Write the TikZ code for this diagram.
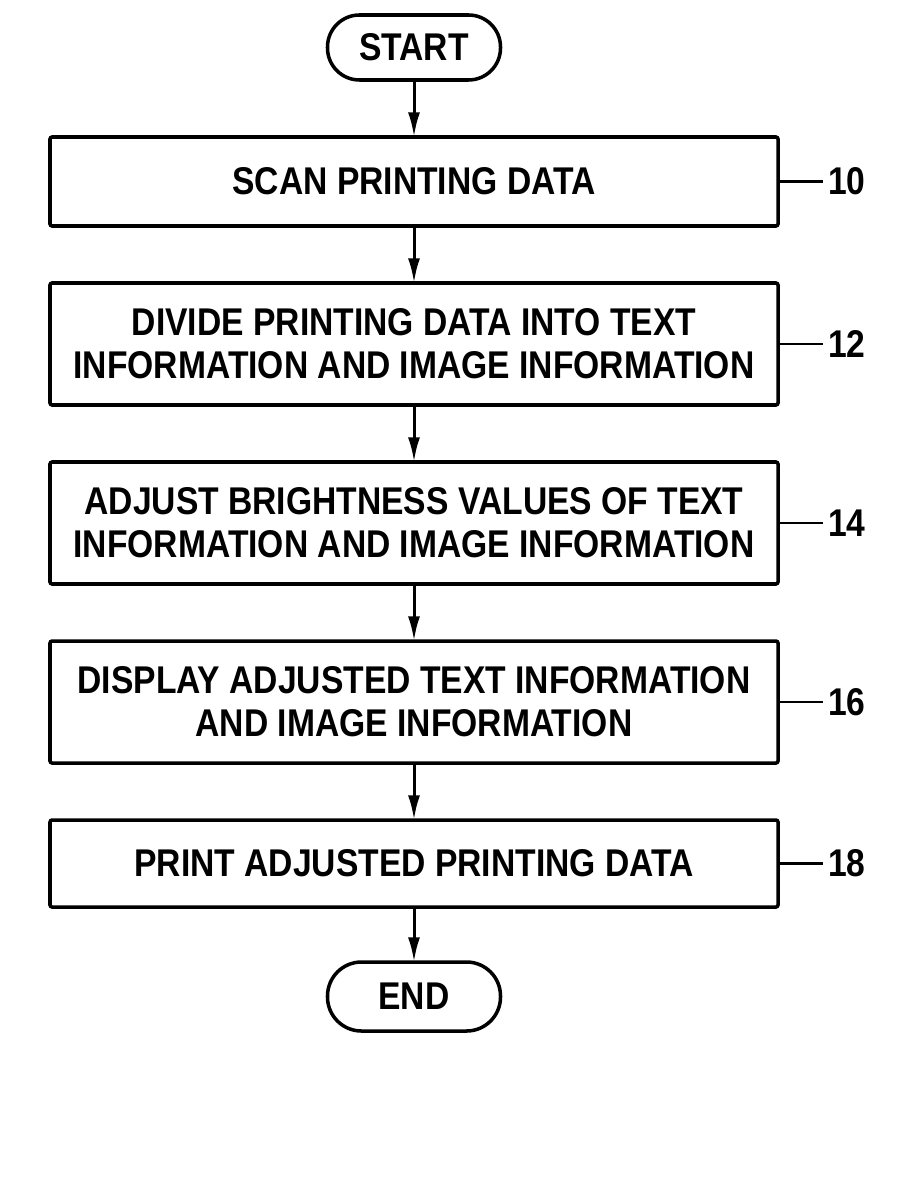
\documentclass[tikz,border=0pt]{standalone}
\usepackage{fontspec}
\setmainfont{Liberation Sans}[FakeStretch=0.87]
\usetikzlibrary{positioning,arrows.meta}

\begin{document}
\begin{tikzpicture}[node distance=0.57cm,
  every node/.style={font=\fontsize{11}{12.2}\selectfont\bfseries,outer sep=0pt},
  stepbox/.style={draw,line width=1pt,rounded corners=0.6pt,minimum width=7.28cm,align=center,inner sep=0pt},
  term/.style={draw,line width=1pt,rounded corners=3.2mm,minimum width=1.73cm,minimum height=0.65cm,inner sep=0pt},
  flow/.style={line width=0.85pt,-{Latex[length=7pt,width=3.4pt]}},
  num/.style={inner sep=1.5pt}]
  \useasboundingbox (0,0) rectangle (9.06,-11.87);
  \node[term] (start) at (4.14,-0.475) {START};
  \node[stepbox,minimum height=0.89cm] (scan) [below=of start] {SCAN PRINTING DATA};
  \node[stepbox,minimum height=1.22cm] (divide) [below=of scan] {DIVIDE PRINTING DATA INTO TEXT\\INFORMATION AND IMAGE INFORMATION};
  \node[stepbox,minimum height=1.22cm] (adjust) [below=of divide] {ADJUST BRIGHTNESS VALUES OF TEXT\\INFORMATION AND IMAGE INFORMATION};
  \node[stepbox,minimum height=1.22cm] (display) [below=of adjust] {DISPLAY ADJUSTED TEXT INFORMATION\\AND IMAGE INFORMATION};
  \node[stepbox,minimum height=0.87cm] (print) [below=of display] {PRINT ADJUSTED PRINTING DATA};
  \node[term,minimum height=0.69cm,rounded corners=3.4mm] (stop) [below=0.55cm of print] {END};
  \draw[flow] (start) -- (scan);
  \draw[flow] (scan) -- (divide);
  \draw[flow] (divide) -- (adjust);
  \draw[flow] (adjust) -- (display);
  \draw[flow] (display) -- (print);
  \draw[flow] (print) -- (stop);
  \node[num] (n10) [right=0.45cm of scan] {10};
  \node[num] (n12) [right=0.45cm of divide] {12};
  \node[num] (n14) [right=0.45cm of adjust] {14};
  \node[num] (n16) [right=0.45cm of display] {16};
  \node[num] (n18) [right=0.45cm of print] {18};
  \draw[line width=0.8pt] (scan) -- (n10);
  \draw[line width=0.8pt] (divide) -- (n12);
  \draw[line width=0.8pt] (adjust) -- (n14);
  \draw[line width=0.8pt] (display) -- (n16);
  \draw[line width=0.8pt] (print) -- (n18);
\end{tikzpicture}
\end{document}
